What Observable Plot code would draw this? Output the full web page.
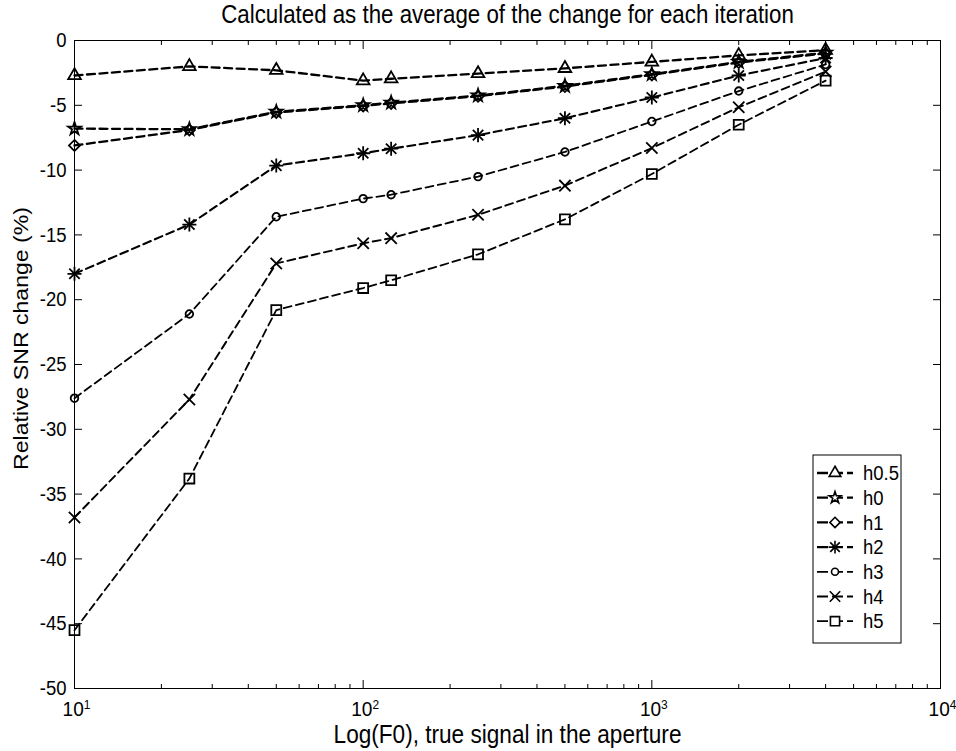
<!DOCTYPE html>
<html><head><meta charset="utf-8">
<script src="https://cdn.jsdelivr.net/npm/d3@7"></script>
<script src="https://cdn.jsdelivr.net/npm/@observablehq/plot@0.6"></script>
<style>body{margin:0;background:#fff} svg{overflow:visible}</style>
</head><body><div id="chart"></div>
<script>
const titleText = "Calculated as the average of the change for each iteration";
const xLabel = "Log(F0), true signal in the aperture";
const yLabel = "Relative SNR change (%)";

const f0 = [10, 25, 50, 100, 125, 250, 500, 1000, 2000, 4000];
const seriesNames = ["h0.5", "h0", "h1", "h2", "h3", "h4", "h5"];
const h05 = [-2.7, -2.0, -2.3, -3.1, -2.95, -2.55, -2.15, -1.65, -1.15, -0.75];
const h0  = [-6.8, -6.85, -5.5, -5.0, -4.8, -4.25, -3.5, -2.6, -1.65, -0.95];
const h1  = [-8.1, -6.9, -5.55, -5.05, -4.85, -4.3, -3.55, -2.65, -1.7, -1.0];
const h2  = [-18.0, -14.2, -9.65, -8.7, -8.35, -7.3, -6.0, -4.4, -2.7, -1.35];
const h3  = [-27.6, -21.1, -13.6, -12.2, -11.9, -10.5, -8.6, -6.25, -3.9, -1.85];
const h4  = [-36.8, -27.7, -17.2, -15.65, -15.25, -13.45, -11.2, -8.3, -5.15, -2.4];
const h5  = [-45.5, -33.8, -20.8, -19.1, -18.5, -16.5, -13.8, -10.3, -6.5, -3.1];

const xMajorTicks = [10, 100, 1000, 10000];
const xMinorTicks = [20, 30, 40, 50, 60, 70, 80, 90, 200, 300, 400, 500, 600, 700, 800, 900, 2000, 3000, 4000, 5000, 6000, 7000, 8000, 9000];
const yTicks = [-50, -45, -40, -35, -30, -25, -20, -15, -10, -5, 0];

const seriesValues = [h05, h0, h1, h2, h3, h4, h5];

// marker styles per series
const symbolTypes = {triangle: d3.symbolTriangle, star: d3.symbolStar, diamond2: d3.symbolDiamond2, plus: d3.symbolPlus, times: d3.symbolTimes, circle: d3.symbolCircle, square: d3.symbolSquare};
const markerStyles = [
  [{symbol: "triangle", r: 4.7}],
  [{symbol: "star", r: 4.0}],
  [{symbol: "diamond2", r: 5.0}],
  [{symbol: "plus", r: 4.6}, {symbol: "times", r: 4.8}],
  [{symbol: "circle", r: 3.8}],
  [{symbol: "times", r: 5.2}],
  [{symbol: "square", r: 5.6}]
];
const lineWidths = [2.3, 2.3, 2.3, 2.1, 1.8, 1.9, 1.8];
const dash = "8,4.5";
const font = "'Liberation Sans', Arial, sans-serif";
const vStretch = 1.12;

const seriesMarks = seriesNames.flatMap((name, s) => {
  const data = f0.map((x, i) => ({x, y: seriesValues[s][i]}));
  return [
    Plot.line(data, {x: "x", y: "y", stroke: "black", strokeWidth: lineWidths[s], strokeDasharray: dash}),
    ...markerStyles[s].map(m => Plot.dot(data, {x: "x", y: "y", symbol: () => m.symbol, r: m.r, fill: "none", stroke: "black", strokeWidth: 1.8}))
  ];
});

const chart = Plot.plot({
  width: 956, height: 751,
  marginLeft: 74, marginRight: 16, marginTop: 40, marginBottom: 63,
  style: {fontFamily: font, fontSize: "18.5px", color: "black", background: "white", overflow: "visible"},
  x: {type: "log", domain: [10, 10000]},
  y: {domain: [-50, 0]},
  symbol: {type: "identity"},
  marks: [
    Plot.frame({stroke: "black", strokeWidth: 1}),
    // inward major ticks
    Plot.axisX(xMajorTicks, {anchor: "bottom", tickSize: 8, insetBottom: 8, tickFormat: () => "", label: null}),
    Plot.axisX(xMajorTicks, {anchor: "top", tickSize: 8, insetTop: 8, tickFormat: () => "", label: null}),
    Plot.axisX(xMinorTicks, {anchor: "bottom", tickSize: 4, insetBottom: 4, tickFormat: () => "", label: null}),
    Plot.axisX(xMinorTicks, {anchor: "top", tickSize: 4, insetTop: 4, tickFormat: () => "", label: null}),
    Plot.axisY(yTicks, {anchor: "left", tickSize: 8, insetLeft: 8, tickFormat: () => "", label: null}),
    Plot.axisY(yTicks, {anchor: "right", tickSize: 8, insetRight: 8, tickFormat: () => "", label: null}),
    // labels
    Plot.axisX(xMajorTicks, {anchor: "bottom", tickSize: 0, tickPadding: 13, tickFormat: d => "10^" + Math.round(Math.log10(d)), label: null}),
    Plot.axisY(yTicks, {anchor: "left", tickSize: 0, tickPadding: 8, tickFormat: d => String(d), label: null}),
    ...seriesMarks,
    Plot.text([titleText], {frameAnchor: "top", dy: -35, fontSize: 22.3}),
    Plot.text([xLabel], {frameAnchor: "bottom", dy: 54, fontSize: 22.6}),
    Plot.text([yLabel], {frameAnchor: "left", textAnchor: "middle", rotate: -90, dx: -53, dy: -26, fontSize: 20.6})
  ]
});

// superscript exponents on x tick labels
d3.select(chart).selectAll("text").each(function() {
  const t = d3.select(this);
  const m = /^10\^(\d)$/.exec(t.text());
  if (m) {
    t.text("");
    t.append("tspan").text("10");
    t.append("tspan").attr("dy", "-0.55em").attr("font-size", "13px").text(m[1]);
    t.attr("dx", 2);
  }
});

// legend drawn inside the plot area
const lg = d3.select(chart).append("g").attr("font-family", font).attr("font-size", 18.5).attr("text-anchor", "start");
const box = {x: 813, y: 455, w: 88, h: 188};
lg.append("rect").attr("x", box.x).attr("y", box.y).attr("width", box.w).attr("height", box.h).attr("fill", "white").attr("stroke", "black").attr("stroke-width", 1);
seriesNames.forEach((name, s) => {
  const cy = 473 + s * 24.7;
  lg.append("line").attr("x1", 817).attr("x2", 853).attr("y1", cy).attr("y2", cy)
    .attr("stroke", "black").attr("stroke-width", lineWidths[s]).attr("stroke-dasharray", "11,4");
  markerStyles[s].forEach(m => {
    lg.append("path").attr("transform", `translate(835,${cy})`)
      .attr("d", d3.symbol(symbolTypes[m.symbol], m.r * m.r * Math.PI * 0.85)())
      .attr("fill", "white").attr("stroke", "black").attr("stroke-width", 1.6);
  });
  lg.append("text").attr("x", 863).attr("y", cy).attr("dy", "0.35em").text(name);
});

document.getElementById("chart").appendChild(chart);

// the reference's glyphs are taller than they are wide: stretch text vertically
d3.select(chart).selectAll("text").each(function() {
  if (!this.textContent) return;
  const len = this.getComputedTextLength();
  const fs = parseFloat(getComputedStyle(this).fontSize);
  const rotated = (this.getAttribute("transform") || "").includes("rotate");
  if (rotated) {
    this.setAttribute("textLength", len * vStretch);
  } else {
    this.setAttribute("font-size", fs * vStretch);
    this.setAttribute("textLength", len);
  }
  this.setAttribute("lengthAdjust", "spacingAndGlyphs");
});
</script>
</body></html>
